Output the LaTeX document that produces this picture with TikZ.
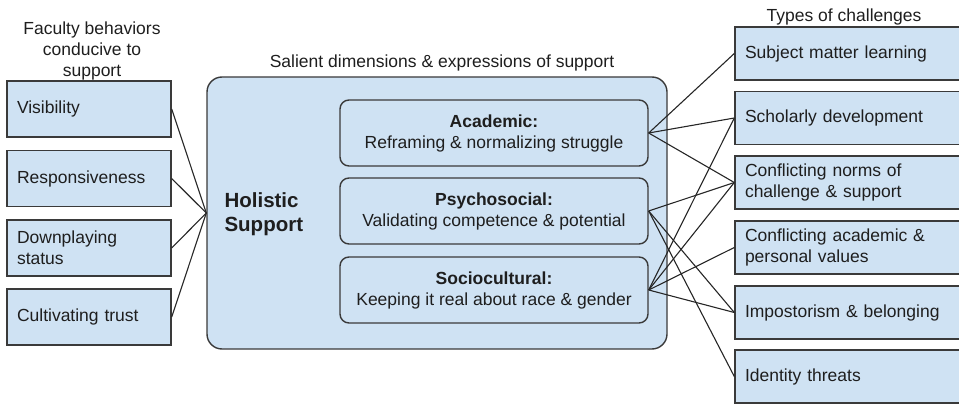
\documentclass[tikz,border=0pt]{standalone}
\usepackage{fontspec}
\setmainfont{Liberation Sans}
\definecolor{boxfill}{HTML}{CFE2F3}
\definecolor{boxline}{HTML}{3A3A3A}
\definecolor{txt}{HTML}{1E1E1E}
\begin{document}
\begin{tikzpicture}[x=1pt,y=-1pt,
  every node/.style={font=\fontsize{17.5}{21}\selectfont, text=txt},
  lbox/.style={draw=boxline, line width=1.4pt, fill=boxfill, minimum width=164pt, minimum height=56pt,
     inner xsep=10pt, inner ysep=2pt, text width=144pt, align=left},
  rbox/.style={draw=boxline, line width=1.4pt, fill=boxfill, minimum width=240pt, minimum height=53pt,
     inner xsep=10pt, inner ysep=2pt, text width=220pt, align=left},
  bigbox/.style={draw=boxline, line width=1.4pt, fill=boxfill, rounded corners=15pt, minimum width=460pt, minimum height=272pt},
  dimbox/.style={draw=boxline, line width=1.4pt, fill=boxfill, rounded corners=9pt, minimum width=308pt, minimum height=66pt,
     align=center, inner sep=2pt},
  title/.style={align=center},
  conn/.style={draw=black!85, line width=1.1pt}]
\useasboundingbox (0,0) rectangle (959,404);
\clip (0,0) rectangle (959,404);

% titles
\node[title] (t1) at (92,51) {Faculty behaviors\\conducive to\\support};
\node[title] (t2) at (442,63) {Salient dimensions \& expressions of support};
\node[title] (t3) at (844,17) {Types of challenges};

% left boxes
\node[lbox] (vis) at (89,109) {Visibility};
\node[lbox] (resp) at (89,178.5) {Responsiveness};
\node[lbox] (down) at (89,248) {Downplaying\\status};
\node[lbox] (cult) at (89,317) {Cultivating trust};

% big box
\node[bigbox] (big) at (437,213) {};
\node[anchor=west, align=left, font=\fontsize{20.5}{24}\selectfont\bfseries] (hol) at (221,214) {Holistic\\Support};

% dimension boxes
\node[dimbox] (acad) at (494,133) {\textbf{Academic:}\\Reframing \& normalizing struggle};
\node[dimbox] (psych) at (494,211) {\textbf{Psychosocial:}\\Validating competence \& potential};
\node[dimbox] (socio) at (494,290) {\textbf{Sociocultural:}\\Keeping it real about race \& gender};

% right boxes
\node[rbox] (subj) at (855,53.5) {Subject matter learning};
\node[rbox] (schol) at (855,118) {Scholarly development};
\node[rbox] (norms) at (855,182.5) {Conflicting norms of\\challenge \& support};
\node[rbox] (vals) at (855,247.5) {Conflicting academic \&\\personal values};
\node[rbox] (imp) at (855,312.5) {Impostorism \& belonging};
\node[rbox] (ident) at (855,376.5) {Identity threats};

% left connectors
\draw[conn] (vis.east) -- (big.west);
\draw[conn] (resp.east) -- (big.west);
\draw[conn] (down.east) -- (big.west);
\draw[conn] (cult.east) -- (big.west);

% right connectors
\draw[conn] (acad.east) -- (subj.west);
\draw[conn] (acad.east) -- (schol.west);
\draw[conn] (acad.east) -- (norms.west);
\draw[conn] (psych.east) -- (norms.west);
\draw[conn] (psych.east) -- (imp.west);
\draw[conn] (psych.east) -- (ident.west);
\draw[conn] (socio.east) -- (schol.west);
\draw[conn] (socio.east) -- (norms.west);
\draw[conn] (socio.east) -- (vals.west);
\draw[conn] (socio.east) -- (imp.west);
\end{tikzpicture}
\end{document}
